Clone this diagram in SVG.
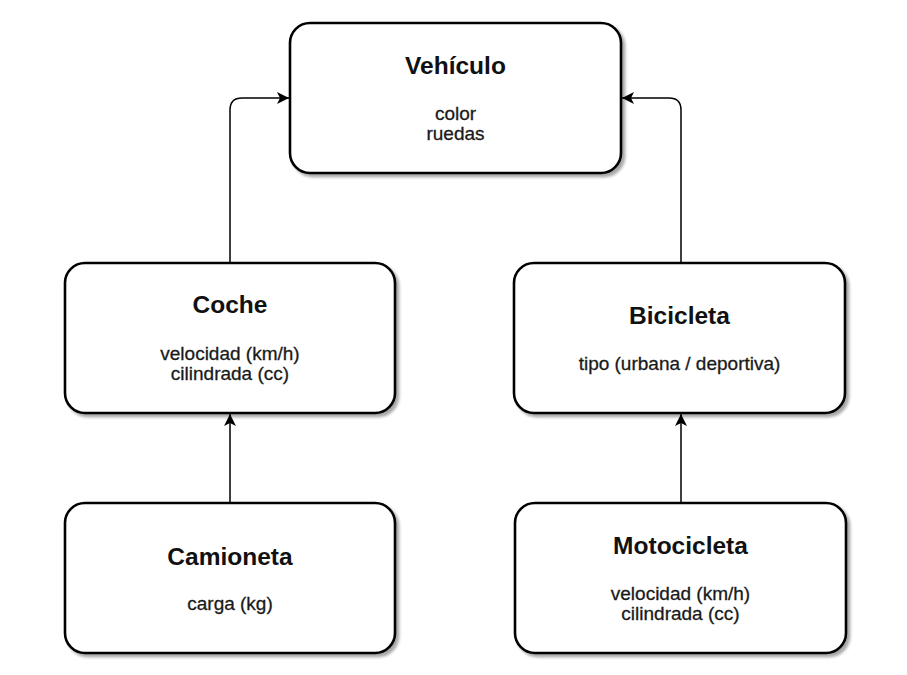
<svg xmlns="http://www.w3.org/2000/svg" width="907" height="675" viewBox="0 0 907 675">
  <style>
    .box { fill: #ffffff; stroke: #000000; stroke-width: 2.6; filter: url(#shadow); }
    .title { font-family: "Liberation Sans", Arial, sans-serif; font-size: 24.5px; font-weight: bold; fill: #111111; text-anchor: middle; }
    .body { font-family: "Liberation Sans", Arial, sans-serif; font-size: 19px; fill: #1a1a1a; stroke: #1a1a1a; stroke-width: 0.3; text-anchor: middle; }
    .edge { fill: none; stroke: #000000; stroke-width: 1.5; marker-end: url(#arrow); }
  </style>
  <defs>
    <filter id="shadow" x="-10%" y="-10%" width="125%" height="130%">
      <feGaussianBlur in="SourceAlpha" stdDeviation="1.5"/>
      <feOffset dx="3" dy="3" result="b"/>
      <feComponentTransfer><feFuncA type="linear" slope="0.35"/></feComponentTransfer>
      <feMerge><feMergeNode/><feMergeNode in="SourceGraphic"/></feMerge>
    </filter>
    <marker id="arrow" viewBox="0 0 12 12" refX="12" refY="6" markerWidth="12" markerHeight="12" markerUnits="userSpaceOnUse" orient="auto">
      <path d="M0,0 L12,6 L0,12 L3,6 Z" fill="#000000"/>
    </marker>
  </defs>
  <rect width="907" height="675" fill="#ffffff"/>

  <g id="connectors">
    <path class="edge" d="M230,263 V110 Q230,98 242,98 H289"/>
    <path class="edge" d="M681,263 V110 Q681,98 669,98 H622"/>
    <path class="edge" d="M230,503 V414"/>
    <path class="edge" d="M681,503 V414"/>
  </g>

  <g id="vehiculo">
    <rect class="box" x="290" y="23" width="331" height="150" rx="20" ry="20"/>
    <text class="title" x="455.5" y="74">Vehículo</text>
    <text class="body" x="455.5" y="120">color</text>
    <text class="body" x="455.5" y="140">ruedas</text>
  </g>

  <g id="coche">
    <rect class="box" x="65" y="263" width="330" height="150" rx="20" ry="20"/>
    <text class="title" x="230" y="313">Coche</text>
    <text class="body" x="230" y="360">velocidad (km/h)</text>
    <text class="body" x="230" y="380">cilindrada (cc)</text>
  </g>

  <g id="bicicleta">
    <rect class="box" x="514" y="263" width="331" height="150" rx="20" ry="20"/>
    <text class="title" x="679.5" y="324">Bicicleta</text>
    <text class="body" x="679.5" y="370">tipo (urbana / deportiva)</text>
  </g>

  <g id="camioneta">
    <rect class="box" x="65" y="503" width="330" height="150" rx="20" ry="20"/>
    <text class="title" x="230" y="565">Camioneta</text>
    <text class="body" x="230" y="610">carga (kg)</text>
  </g>

  <g id="motocicleta">
    <rect class="box" x="515" y="503" width="331" height="150" rx="20" ry="20"/>
    <text class="title" x="680.5" y="554">Motocicleta</text>
    <text class="body" x="680.5" y="600">velocidad (km/h)</text>
    <text class="body" x="680.5" y="620">cilindrada (cc)</text>
  </g>
</svg>
